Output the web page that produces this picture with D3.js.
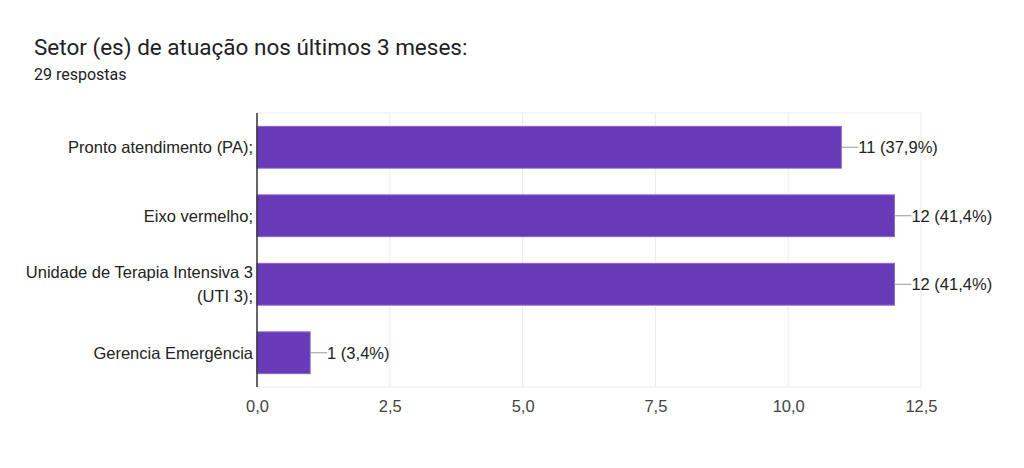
<!DOCTYPE html>
<html>
<head>
<meta charset="utf-8">
<script src="https://cdn.jsdelivr.net/npm/d3@7"></script>
<style>
  body { margin: 0; background: #fff; }
  .title { font-family: Roboto, Arial, sans-serif; font-size: 22.5px; fill: #202124; }
  .subtitle { font-family: Roboto, Arial, sans-serif; font-size: 16px; fill: #202124; }
  .cat-label { font-family: "Liberation Sans", Arial, sans-serif; font-size: 16.5px; fill: #222; }
  .tick-label { font-family: "Liberation Sans", Arial, sans-serif; font-size: 16.5px; fill: #444; }
  .value-label { font-family: "Liberation Sans", Arial, sans-serif; font-size: 16.5px; fill: #222; }
</style>
</head>
<body>
<svg id="chart" width="1024" height="468"></svg>
<script>
// ========= data =========
const categories = [
    ["Pronto atendimento (PA);"],
    ["Eixo vermelho;"],
    ["Unidade de Terapia Intensiva 3", "(UTI 3);"],
    ["Gerencia Emergência"]
];
const counts = [11, 12, 12, 1];
const percents = ["37,9%", "41,4%", "41,4%", "3,4%"];
const xTicks = [0, 2.5, 5, 7.5, 10, 12.5];

const svg = d3.select("#chart");

// ========= header =========
svg.append("text")
    .attr("class", "title")
    .attr("x", 34)
    .attr("y", 55)
    .text("Setor (es) de atuação nos últimos 3 meses:");

svg.append("text")
    .attr("class", "subtitle")
    .attr("x", 34)
    .attr("y", 80)
    .text("29 respostas");

// ========= scales =========
const plot = { left: 257, right: 921, top: 113, bottom: 387 };

const x = d3.scaleLinear()
    .domain([0, 12.5])
    .range([plot.left, plot.right]);

const y = d3.scaleBand()
    .domain(d3.range(categories.length))
    .range([plot.top, plot.bottom])
    .paddingInner(0.39)
    .paddingOuter(0.195);

const g = svg.append("g");

// gridlines
g.selectAll(".grid")
    .data(xTicks.slice(1))
    .join("line")
    .attr("x1", d => x(d))
    .attr("x2", d => x(d))
    .attr("y1", plot.top)
    .attr("y2", plot.bottom)
    .attr("stroke", "#ebebeb")
    .attr("stroke-width", 1);

g.append("line")
    .attr("x1", plot.left).attr("x2", plot.right)
    .attr("y1", plot.top).attr("y2", plot.top)
    .attr("stroke", "#ebebeb");

g.append("line")
    .attr("x1", plot.left).attr("x2", plot.right)
    .attr("y1", plot.bottom).attr("y2", plot.bottom)
    .attr("stroke", "#ebebeb");

// x axis tick labels
const xAxis = g.append("g")
    .attr("transform", `translate(0,${plot.bottom})`)
    .call(d3.axisBottom(x)
        .tickValues(xTicks)
        .tickSize(0)
        .tickPadding(13)
        .tickFormat(d => d3.format(".1f")(d).replace(".", ",")));
xAxis.select(".domain").remove();
xAxis.selectAll("text").attr("class", "tick-label").attr("fill", null);

// bars
g.selectAll(".bar")
    .data(counts)
    .join("rect")
    .attr("class", "bar")
    .attr("x", x(0))
    .attr("y", (d, i) => y(i))
    .attr("width", d => x(d) - x(0))
    .attr("height", y.bandwidth())
    .attr("fill", "#673ab7")
    .attr("stroke", "#8a63cc")
    .attr("stroke-width", 1);

// connector + value labels
g.selectAll(".conn")
    .data(counts)
    .join("line")
    .attr("x1", d => x(d))
    .attr("x2", d => x(d) + 17)
    .attr("y1", (d, i) => y(i) + y.bandwidth() / 2)
    .attr("y2", (d, i) => y(i) + y.bandwidth() / 2)
    .attr("stroke", "#999")
    .attr("stroke-width", 1);

g.selectAll(".value-label")
    .data(counts)
    .join("text")
    .attr("class", "value-label")
    .attr("x", d => x(d) + 17)
    .attr("y", (d, i) => y(i) + y.bandwidth() / 2)
    .attr("dy", "0.35em")
    .text((d, i) => `${d} (${percents[i]})`);

// category labels
const lineGap = 24;
const cat = g.selectAll(".cat-label")
    .data(categories)
    .join("text")
    .attr("class", "cat-label")
    .attr("text-anchor", "end")
    .attr("x", plot.left - 4)
    .attr("y", (d, i) => y(i) + y.bandwidth() / 2 - (d.length - 1) * lineGap / 2);

cat.selectAll("tspan")
    .data(d => d.map((t, j) => ({ t, j })))
    .join("tspan")
    .attr("x", plot.left - 4)
    .attr("dy", d => d.j === 0 ? "0.35em" : lineGap)
    .text(d => d.t);

// left axis line
g.append("line")
    .attr("x1", plot.left).attr("x2", plot.left)
    .attr("y1", plot.top).attr("y2", plot.bottom)
    .attr("stroke", "#333")
    .attr("stroke-width", 1.5);
</script>
</body>
</html>
